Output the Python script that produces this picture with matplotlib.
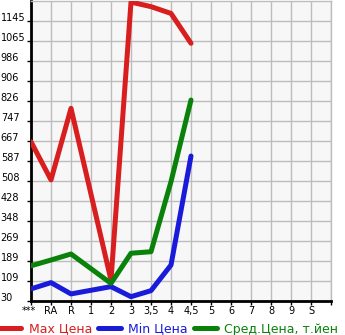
import numpy as np
import matplotlib.pyplot as plt
from matplotlib.transforms import blended_transform_factory

categories = ["***", "RA", "R", "1", "2", "3", "3,5", "4", "4,5", "5", "6", "7", "8", "9", "S"]
y_ticks = [30, 109, 189, 269, 348, 428, 508, 587, 667, 747, 826, 906, 986, 1065, 1145]

# categories that have data (index into categories)
data_idx = [0, 1, 2, 4, 5, 6, 7, 8]
max_price = [663, 511, 796, 112, 1219, 1201, 1174, 1055]
min_price = [77, 102, 57, 86, 46, 70, 172, 606]
avg_price = [169, 192, 216, 99, 219, 225, 504, 829]

red = "#d81e1e"
blue = "#1a1adb"
green = "#0a820a"

fig = plt.figure(figsize=(3.45, 3.35), dpi=100)
ax = fig.add_axes([31 / 345, 1 - 300.7 / 335, 300 / 345, 300 / 335])
ax.set_facecolor("#f7f7f7")

ax.plot(data_idx, max_price, color=red, lw=3.6, solid_capstyle="round", label="Max Цена", zorder=3)
ax.plot(data_idx, min_price, color=blue, lw=3.6, solid_capstyle="round", label="Min Цена", zorder=3)
ax.plot(data_idx, avg_price, color=green, lw=3.6, solid_capstyle="round", label="Сред.Цена, т.йен", zorder=3)

step = (y_ticks[-1] - y_ticks[0]) / 14
ax.set_xlim(0, 15)
ax.set_ylim(y_ticks[0], y_ticks[-1] + step)
ax.set_xticks(range(16))
ax.set_xticklabels([])
ax.set_yticks(y_ticks)
ax.set_yticklabels([])
ax.grid(True, color="#bdbdbd", lw=1)
ax.set_axisbelow(True)
ax.tick_params(axis="both", length=3, width=1, color="black", direction="out")

for s in ["left", "bottom"]:
    ax.spines[s].set_color("black")
    ax.spines[s].set_linewidth(2)
for s in ["top", "right"]:
    ax.spines[s].set_color("#bdbdbd")
    ax.spines[s].set_linewidth(1)

trans_y = blended_transform_factory(fig.transFigure, ax.transData)
for v in y_ticks:
    ax.text(0.002, v, str(v), transform=trans_y, ha="left", va="baseline", fontsize=7, clip_on=False)

trans_x = blended_transform_factory(ax.transData, fig.transFigure)
for i, c in enumerate(categories):
    if c == "***":
        ax.text(i - 0.1, 1 - 311 / 335, c, transform=trans_x, ha="center", va="center",
                fontsize=7, clip_on=False)
    else:
        ax.text(i, 1 - 311 / 335, c, transform=trans_x, ha="center", va="center",
                fontsize=7, clip_on=False)

leg = fig.legend(loc="center left", bbox_to_anchor=(-0.004, 1 - 329 / 335), ncol=3, frameon=False,
                 fontsize=9, handlelength=1.8, handletextpad=0.6, columnspacing=0.5,
                 borderaxespad=0, borderpad=0)
for t, c in zip(leg.get_texts(), [red, blue, green]):
    t.set_color(c)

fig.savefig("out.png", dpi=100)
